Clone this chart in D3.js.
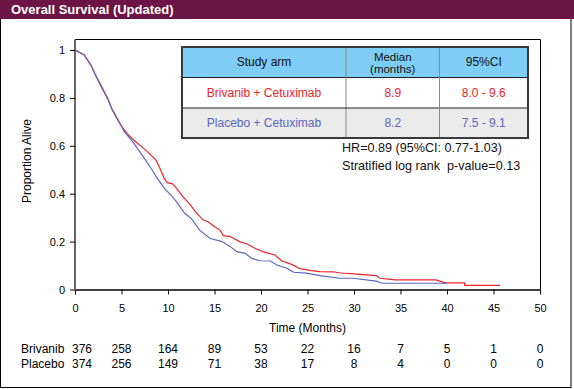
<!DOCTYPE html>
<html>
<head>
<meta charset="utf-8">
<script src="https://cdn.jsdelivr.net/npm/d3@7"></script>
<style>
  body { margin: 0; background: #fff; }
  svg { display: block; font-family: Arial, "Liberation Sans", sans-serif; }
</style>
</head>
<body>
<div id="chart"></div>
<script>
// Kaplan-Meier curves (months, proportion alive)
var brivTime = [0, 1.0, 1.7, 2.2, 2.9, 3.5, 4.0, 4.9, 5.6, 6.3, 7.6, 8.7, 9.2, 9.6, 9.9, 10.5, 10.9, 11.6, 12.4, 13.1,
  13.8, 14.3, 15.1, 15.6, 15.95, 16.7, 17.7, 18.5, 19.35, 20.2, 21.5, 22.2, 23.3, 24.2, 25.4, 26.3, 27.7, 28.6, 30.4,
  32.4, 32.8, 34.4, 38.8, 39.8, 41.9, 41.9, 45.7];
var brivSurv = [1, 0.979, 0.937, 0.896, 0.840, 0.798, 0.749, 0.687, 0.652, 0.624, 0.582, 0.541, 0.500, 0.464, 0.446, 0.441, 0.423, 0.388, 0.353, 0.318,
  0.290, 0.283, 0.260, 0.248, 0.225, 0.221, 0.200, 0.190, 0.172, 0.158, 0.144, 0.120, 0.105, 0.087, 0.079, 0.075, 0.074, 0.069, 0.064,
  0.058, 0.047, 0.040, 0.040, 0.028, 0.028, 0.017, 0.017];

var placTime = [0, 1.0, 1.7, 2.2, 2.9, 3.5, 4.0, 4.9, 5.3, 6.2, 7.2, 8.3, 8.85, 9.7, 10.4, 10.9, 11.8, 12.5, 13.4, 14.5,
  15.8, 16.7, 17.4, 18.3, 19.0, 19.9, 21.0, 21.7, 22.8, 23.5, 24.9, 26.3, 28.5, 29.9, 32.4, 33.0, 40.0];
var placSurv = [1, 0.979, 0.937, 0.896, 0.845, 0.800, 0.752, 0.690, 0.659, 0.617, 0.562, 0.499, 0.464, 0.418, 0.391, 0.367, 0.318, 0.297, 0.248, 0.214,
  0.200, 0.179, 0.158, 0.151, 0.130, 0.120, 0.119, 0.102, 0.089, 0.072, 0.068, 0.058, 0.047, 0.047, 0.035, 0.026, 0.026];

var xTicks = [0, 5, 10, 15, 20, 25, 30, 35, 40, 45, 50];
var yTicks = [0, 0.2, 0.4, 0.6, 0.8, 1];

// number at risk
var riskTimes = [0, 5, 10, 15, 20, 25, 30, 35, 40, 45, 50];
var brivRisk = [376, 258, 164, 89, 53, 22, 16, 7, 5, 1, 0];
var placRisk = [374, 256, 149, 71, 38, 17, 8, 4, 0, 0, 0];

var tableHeader = ["Study arm", ["Median", "(months)"], "95%CI"];
var tableArms = ["Brivanib + Cetuximab", "Placebo + Cetuximab"];
var tableMedians = ["8.9", "8.2"];
var tableCI = ["8.0 - 9.6", "7.5 - 9.1"];
var statsLines = ["HR=0.89 (95%CI: 0.77-1.03)", "Stratified log rank  p-value=0.13"];

var red = "#f0232a", blue = "#5c66bf";

var svgWidth = 574, svgHeight = 389;
var svg = d3.select("#chart").append("svg")
  .attr("width", svgWidth)
  .attr("height", svgHeight);

// frame + title bar
svg.append("rect")
  .attr("x", 0.5).attr("y", 0.5)
  .attr("width", 570.5).attr("height", 387)
  .attr("fill", "#fff").attr("stroke", "#000");
svg.append("rect")
  .attr("x", 0).attr("y", 0)
  .attr("width", svgWidth).attr("height", 19)
  .attr("fill", "#6c1446");
svg.append("text")
  .attr("x", 11).attr("y", 14)
  .attr("fill", "#fff")
  .attr("font-size", "13px")
  .attr("font-weight", "bold")
  .text("Overall Survival (Updated)");

var x = d3.scaleLinear().domain([0, 50]).range([75, 540]);
var y = d3.scaleLinear().domain([0, 1]).range([289.5, 50]);

// box top + right
svg.append("path")
  .attr("d", "M75,39.5H540.5V289.5")
  .attr("fill", "none").attr("stroke", "#000");

var xAxis = svg.append("g")
  .attr("transform", "translate(0,289.5)")
  .call(d3.axisBottom(x).tickValues(xTicks).tickSize(5).tickSizeOuter(0).tickPadding(10));
xAxis.select(".domain").attr("stroke", "#000").attr("stroke-width", 1.3);
xAxis.selectAll("text").attr("font-size", "11px").attr("fill", "#000").attr("font-family", null);

var yAxis = svg.append("g")
  .attr("transform", "translate(75,0)")
  .call(d3.axisLeft(y).tickValues(yTicks).tickSize(5).tickSizeOuter(0).tickPadding(5)
    .tickFormat(function(d) { return String(+d.toFixed(1)); }));
yAxis.select(".domain").attr("d", "M0,39.5V289.5").attr("stroke", "#666").attr("stroke-width", 2);
yAxis.selectAll("text").attr("font-size", "11px").attr("fill", "#000").attr("font-family", null);

svg.append("text")
  .attr("transform", "translate(31,161) rotate(-90)")
  .attr("text-anchor", "middle")
  .attr("font-size", "12px")
  .text("Proportion Alive");

svg.append("text")
  .attr("x", x(25)).attr("y", 332)
  .attr("text-anchor", "middle")
  .attr("font-size", "12px")
  .text("Time (Months)");

// curves
var line = d3.line()
  .x(function(d) { return x(d[0]); })
  .y(function(d) { return y(d[1]); });

svg.append("path")
  .datum(d3.zip(brivTime, brivSurv))
  .attr("d", line)
  .attr("fill", "none").attr("stroke", red).attr("stroke-width", 1.2);
svg.append("path")
  .datum(d3.zip(placTime, placSurv))
  .attr("d", line)
  .attr("fill", "none").attr("stroke", blue).attr("stroke-width", 1.2);

// table
var tx = [182, 346, 439.5, 528];
var ty = [47, 77.5, 108, 138];
var rowFill = ["#7ecdf4", "#ffffff", "#ebebeb"];
var tbl = svg.append("g");
rowFill.forEach(function(f, i) {
  tbl.append("rect")
    .attr("x", tx[0]).attr("y", ty[i])
    .attr("width", tx[3] - tx[0]).attr("height", ty[i + 1] - ty[i])
    .attr("fill", f);
});
[1, 2].forEach(function(i) {
  tbl.append("line")
    .attr("x1", tx[0]).attr("x2", tx[3])
    .attr("y1", ty[i]).attr("y2", ty[i])
    .attr("stroke", "#222").attr("stroke-width", 1);
  tbl.append("line")
    .attr("x1", tx[i]).attr("x2", tx[i])
    .attr("y1", ty[0]).attr("y2", ty[3])
    .attr("stroke", "#888").attr("stroke-width", 1);
});
tbl.append("rect")
  .attr("x", tx[0]).attr("y", ty[0])
  .attr("width", tx[3] - tx[0]).attr("height", ty[3] - ty[0])
  .attr("fill", "none").attr("stroke", "#3a3a3a").attr("stroke-width", 2);

function colMid(i) { return (tx[i] + tx[i + 1]) / 2; }
function rowMid(i) { return (ty[i] + ty[i + 1]) / 2; }

tableHeader.forEach(function(h, i) {
  var lines = Array.isArray(h) ? h : [h];
  lines.forEach(function(s, k) {
    var yy = lines.length > 1 ? 60.5 + k * 12 : rowMid(0) + 4;
    tbl.append("text")
      .attr("x", colMid(i)).attr("y", yy)
      .attr("text-anchor", "middle")
      .attr("font-size", lines.length > 1 ? "11.5px" : "12px")
      .attr("fill", "#111")
      .text(s);
  });
});
tableArms.forEach(function(a, r) {
  var c = r === 0 ? red : blue;
  [a, tableMedians[r], tableCI[r]].forEach(function(s, i) {
    tbl.append("text")
      .attr("x", colMid(i)).attr("y", rowMid(r + 1) + 4)
      .attr("text-anchor", "middle")
      .attr("font-size", "12px")
      .attr("fill", c)
      .text(s);
  });
});

statsLines.forEach(function(s, i) {
  svg.append("text")
    .attr("x", 342).attr("y", 151.5 + i * 18)
    .attr("font-size", "12.6px")
    .attr("fill", "#111")
    .style("white-space", "pre")
    .text(s);
});

// number at risk
var riskRows = [["Brivanib", brivRisk], ["Placebo", placRisk]];
riskRows.forEach(function(r, k) {
  var yy = 353 + k * 14.5;
  svg.append("text")
    .attr("x", 21).attr("y", yy)
    .attr("font-size", "12px")
    .text(r[0]);
  svg.append("g").selectAll("text")
    .data(r[1])
    .enter()
    .append("text")
    .attr("x", function(d, i) { return x(riskTimes[i]) + (i === 0 ? 7 : 0); })
    .attr("y", yy)
    .attr("text-anchor", "middle")
    .attr("font-size", "12px")
    .text(function(d) { return d; });
});
</script>
</body>
</html>
